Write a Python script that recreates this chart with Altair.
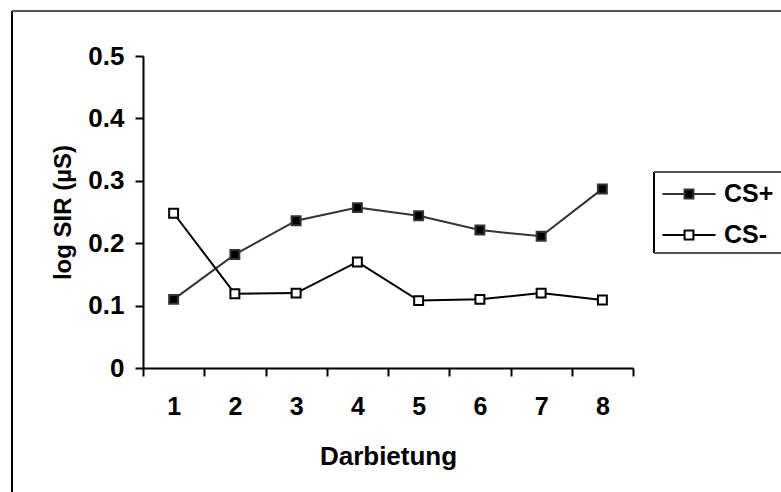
import altair as alt
import pandas as pd

# Presentation number (Darbietung) and mean log skin conductance response
darbietung = [1, 2, 3, 4, 5, 6, 7, 8]
cs_plus = [0.110, 0.182, 0.236, 0.257, 0.244, 0.221, 0.211, 0.287]
cs_minus = [0.248, 0.119, 0.120, 0.170, 0.108, 0.110, 0.120, 0.109]
series_names = ["CS+", "CS-"]
y_ticks = [0, 0.1, 0.2, 0.3, 0.4, 0.5]

rows = []
for name, values in zip(series_names, [cs_plus, cs_minus]):
    for d, v in zip(darbietung, values):
        rows.append({"Darbietung": str(d), "Reiz": name, "SIR": v})
df = pd.DataFrame(rows)

FONT = "Liberation Sans"
W, H = 490, 312
LEFT, TOP = 143, 56

x_enc = alt.X(
    "Darbietung:N",
    sort=[str(d) for d in darbietung],
    scale=alt.Scale(paddingInner=0, paddingOuter=0),
    axis=alt.Axis(
        title="Darbietung", labelAngle=0, tickBand="extent",
        domainColor="black", domainWidth=2, tickColor="black", tickWidth=2,
        tickSize=8, labelFontSize=25, labelFont=FONT, labelFontWeight="bold",
        labelColor="black", labelPadding=18, titleFontSize=26, titleFont=FONT,
        titleFontWeight="bold", titleColor="black", titlePadding=24,
        grid=False,
    ),
)
y_enc = alt.Y(
    "SIR:Q",
    scale=alt.Scale(domain=[0, 0.5], nice=False),
    axis=alt.Axis(
        title="log SIR (µS)", values=y_ticks, format=".1~f",
        domainColor="black", domainWidth=2, tickColor="black", tickWidth=2,
        tickSize=8, labelFontSize=26, labelFont=FONT, labelFontWeight="bold",
        labelColor="black", labelPadding=11, titleFontSize=24, titleFont=FONT,
        titleFontWeight="bold", titleColor="black", titlePadding=12,
        grid=False,
    ),
)

stroke_scale = alt.Scale(domain=series_names, range=["#333333", "#000000"])
fill_scale = alt.Scale(domain=series_names, range=["#000000", "#ffffff"])
# Legend symbol: a short line with a square marker in the middle
legend = alt.Legend(
    title=None, orient="none", legendX=528, legendY=120,
    padding=0, rowPadding=10, labelOffset=17,
    symbolType="M-1.56,0H-0.26M0.26,0H1.56M-0.26,-0.26H0.26V0.26H-0.26Z",
    symbolSize=1156, symbolStrokeWidth=2,
    labelFontSize=25, labelFont=FONT, labelFontWeight="bold", labelColor="black",
)

lines = alt.Chart(df).mark_line(strokeWidth=2).encode(
    x=x_enc, y=y_enc,
    stroke=alt.Stroke("Reiz:N", scale=stroke_scale, legend=legend),
    detail="Reiz:N",
)
points = alt.Chart(df).mark_point(shape="square", filled=False, size=80, strokeWidth=2, opacity=1).encode(
    x=x_enc, y=y_enc,
    stroke=alt.Stroke("Reiz:N", scale=stroke_scale, legend=legend),
    fill=alt.Fill("Reiz:N", scale=fill_scale, legend=legend),
)

# Outer frame lines (left and top edges of the figure)
frame_left = alt.Chart(df).mark_rule(color="black", strokeWidth=2).encode(
    x=alt.value(12 - LEFT), y=alt.value(11 - TOP), y2=alt.value(492 - TOP)
)
frame_top = alt.Chart(df).mark_rule(color="#555555", strokeWidth=2).encode(
    x=alt.value(12 - LEFT), x2=alt.value(781 - LEFT), y=alt.value(11 - TOP)
)
# Legend box edges (the box runs past the right edge of the figure)
box_left = alt.Chart(df).mark_rule(color="black", strokeWidth=1.5).encode(
    x=alt.value(654 - LEFT), y=alt.value(172 - TOP), y2=alt.value(253 - TOP)
)
box_top = alt.Chart(df).mark_rule(color="#555555", strokeWidth=1.5).encode(
    x=alt.value(654 - LEFT), x2=alt.value(781 - LEFT), y=alt.value(172 - TOP)
)
box_bottom = alt.Chart(df).mark_rule(color="#555555", strokeWidth=1.5).encode(
    x=alt.value(654 - LEFT), x2=alt.value(781 - LEFT), y=alt.value(253 - TOP)
)

chart = alt.layer(
    frame_left, frame_top, box_left, box_top, box_bottom, lines, points
).properties(
    width=W, height=H,
    autosize=alt.AutoSizeParams(type="none"),
    padding={"left": LEFT, "top": TOP, "right": 781 - LEFT - W, "bottom": 492 - TOP - H},
    background="white",
).configure_view(stroke=None)

chart.save("out.html", embed_options={"renderer": "svg", "actions": False})
